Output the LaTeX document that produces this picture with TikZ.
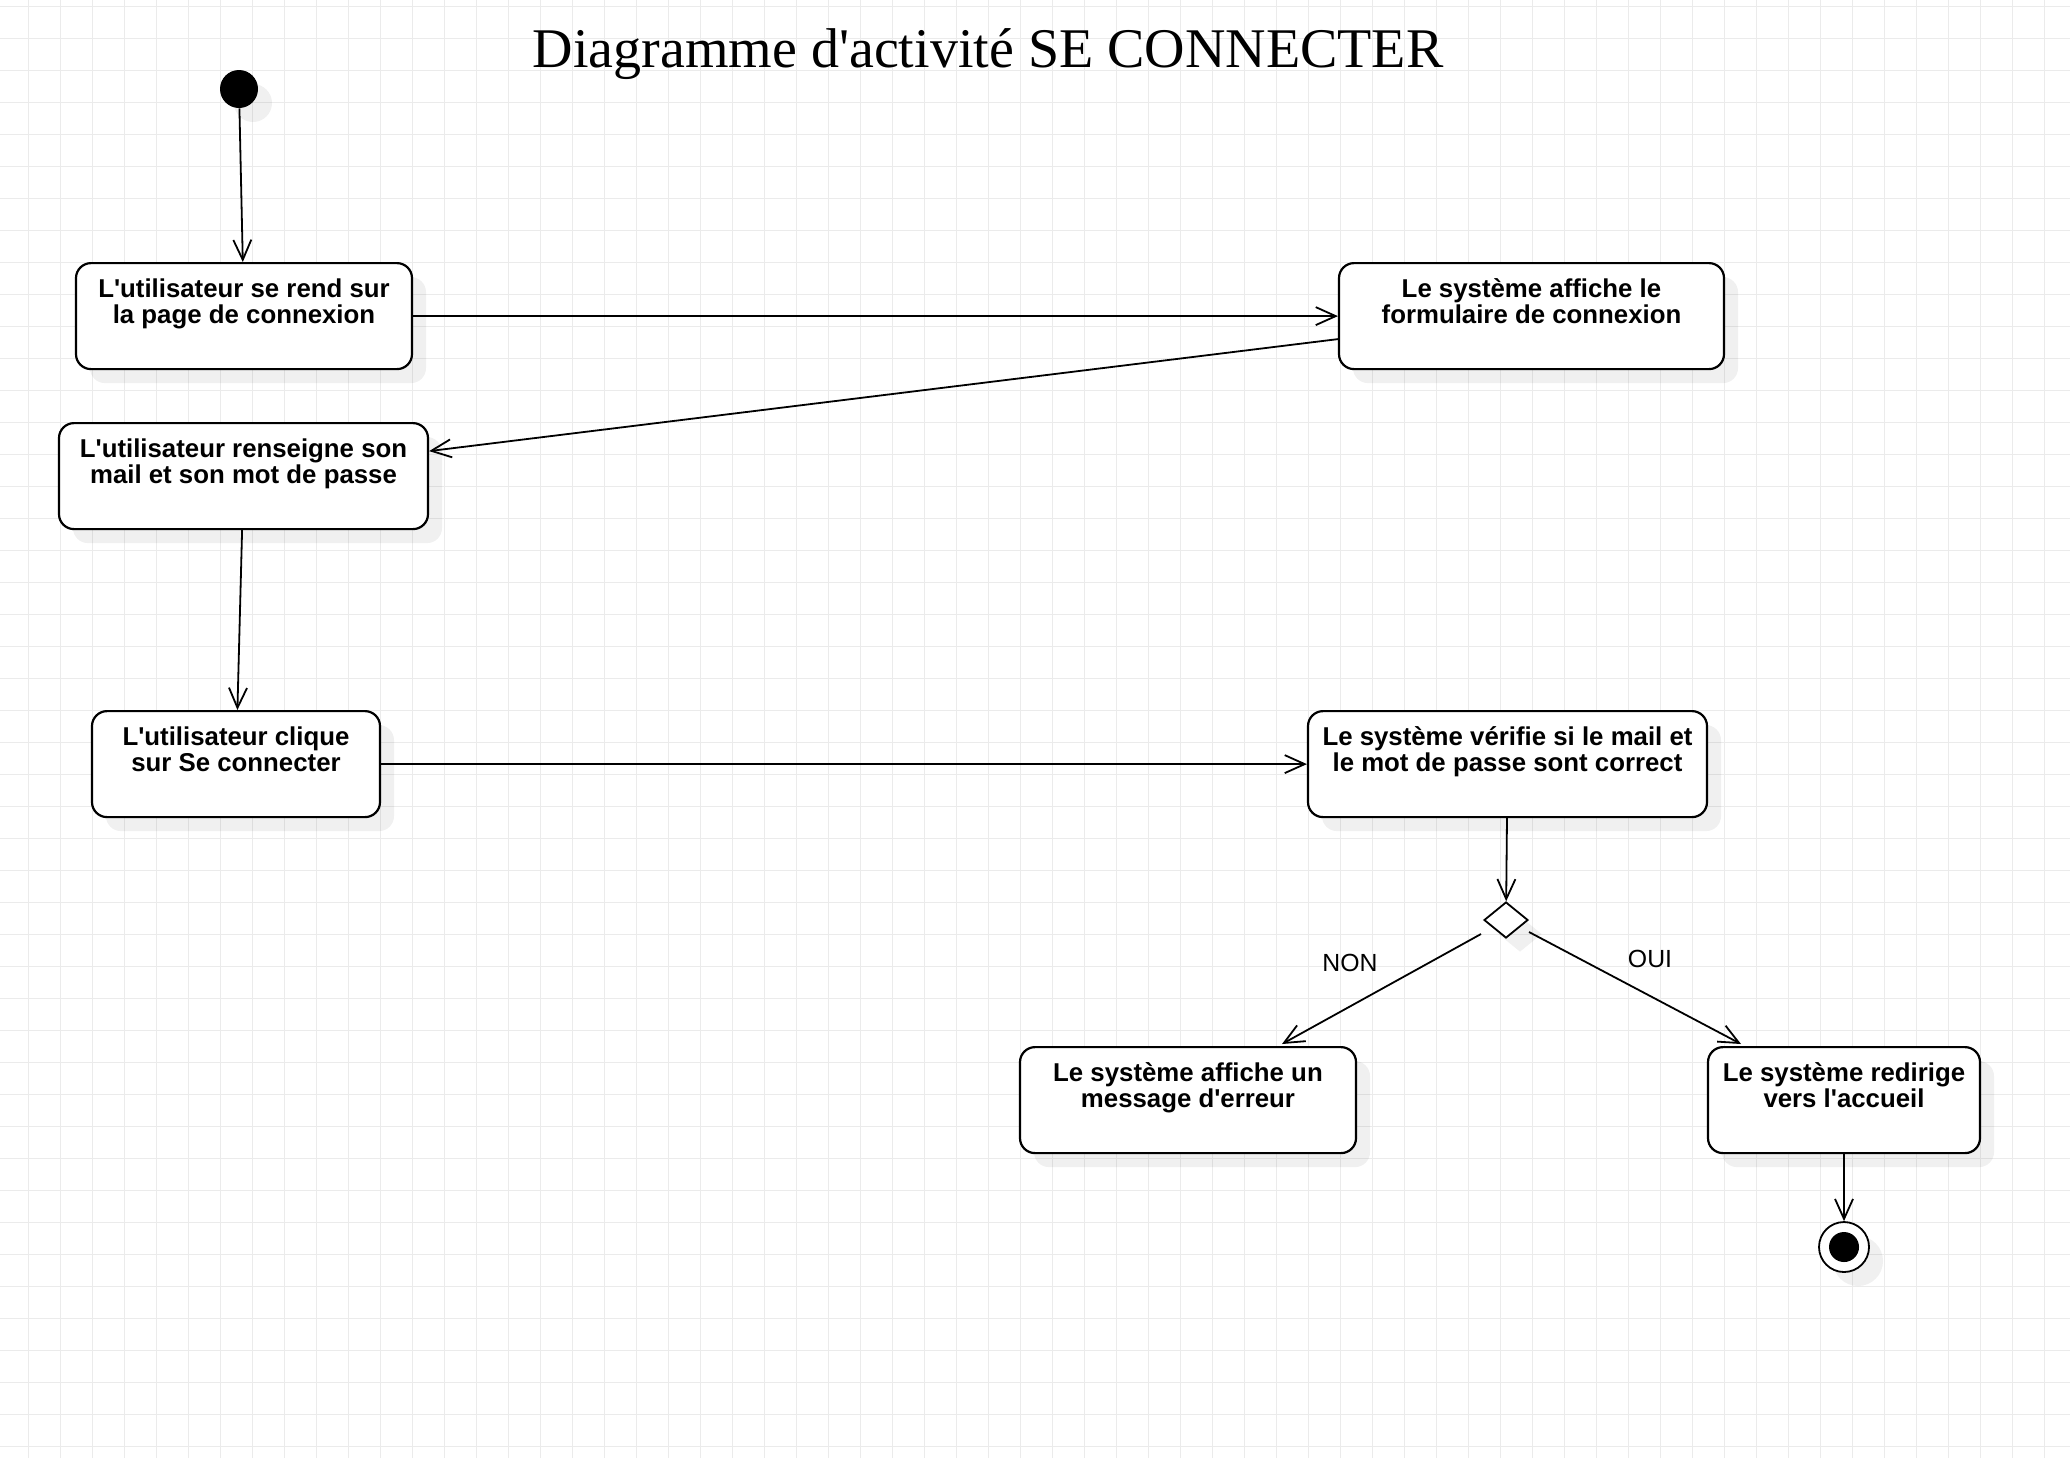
\documentclass[tikz,border=0pt]{standalone}
\usepackage{fontspec}
\newfontfamily\boitefont{Liberation Sans}
\newfontfamily\titlefont{Liberation Serif}
\usetikzlibrary{arrows.meta, positioning}
\usetikzlibrary{shapes.geometric}
\usetikzlibrary{shadows}

\tikzset{
    ombre/.style={drop shadow={shadow xshift=7pt, shadow yshift=-7pt,
        fill=black, opacity=0.06}},
    activite/.style={draw, fill=white, line width=1.1pt, rounded corners=7.5pt,
        anchor=north, inner xsep=4pt, inner ysep=0pt, align=center,
        text height=30.25pt, text depth=22.75pt, ombre,
        font=\boitefont\fontsize{12.9}{13}\selectfont\bfseries},
    fleche/.style={-{Straight Barb[length=10pt, width=9pt]}, line width=0.9pt},
}

\begin{document}
\begin{tikzpicture}[x=0.5pt, y=-0.5pt,
    grille/.style={draw=black!8, line width=0.5pt},
    debut/.style={circle, fill=black, minimum size=19pt, inner sep=0pt, ombre},
    fin/.style={circle, draw, fill=white, line width=0.9pt, minimum size=25pt,
        inner sep=0pt, ombre,
        path picture={\fill[black] (path picture bounding box.center) circle (7.5pt);}},
    decision/.style={diamond, draw, fill=white, line width=0.9pt,
        minimum width=22pt, minimum height=18pt, inner sep=0pt, ombre},
    garde/.style={font=\boitefont\fontsize{12.4}{14}\selectfont},
    titre/.style={anchor=base, font=\titlefont\fontsize{28}{34}\selectfont}]

    \useasboundingbox (0,0) rectangle (2070,1458);
    \fill[white] (0,0) rectangle (2070,1458);

    % grille de fond
    \foreach \gx in {28,60,...,2060}
        \draw[grille] (\gx,0) -- (\gx,1458);
    \foreach \gy in {6,38,...,1450}
        \draw[grille] (0,\gy) -- (2070,\gy);

    \node[titre] (titre) at (988,67) {Diagramme d'activité SE CONNECTER};

    \node[debut] (debut) at (239,89) {};

    \node[activite, minimum width=168pt] (rend) at (244,262)
        {L'utilisateur se rend sur\\la page de connexion};
    \node[activite, minimum width=192.5pt] (formulaire) at (1531.5,262)
        {Le système affiche le\\formulaire de connexion};
    \node[activite, minimum width=184.5pt] (renseigne) at (243.5,422)
        {L'utilisateur renseigne son\\mail et son mot de passe};
    \node[activite, minimum width=144pt] (clique) at (236,710)
        {L'utilisateur clique\\sur Se connecter};
    \node[activite, minimum width=199.5pt] (verifie) at (1507.5,710)
        {Le système vérifie si le mail et\\le mot de passe sont correct};

    \node[decision] (choix) at (1506,920) {};

    \node[activite, minimum width=168pt] (erreur) at (1188,1046)
        {Le système affiche un\\message d'erreur};
    \node[activite, minimum width=136pt] (accueil) at (1844,1046)
        {Le système redirige\\vers l'accueil};

    \node[fin] (fin) at (1844,1247) {};

    \node[garde] (non) at (1350,963) {NON};
    \node[garde] (oui) at (1650,959) {OUI};

    % transitions
    \draw[fleche] (debut) -- (rend);
    \draw[fleche] (rend) -- (formulaire);
    \draw[fleche] ([shift={(0,23)}]formulaire.west) -- ([shift={(0,-25)}]renseigne.east);
    \draw[fleche] (renseigne) -- (clique);
    \draw[fleche] (clique) -- (verifie);
    \draw[fleche] (verifie) -- (choix);
    \draw[fleche] ([shift={(-25,14)}]choix.center) -- ([shift={(94,-2)}]erreur.north);
    \draw[fleche] ([shift={(23,12)}]choix.center) -- ([shift={(-103,-2)}]accueil.north);
    \draw[fleche] (accueil) -- (fin);

\end{tikzpicture}
\end{document}
